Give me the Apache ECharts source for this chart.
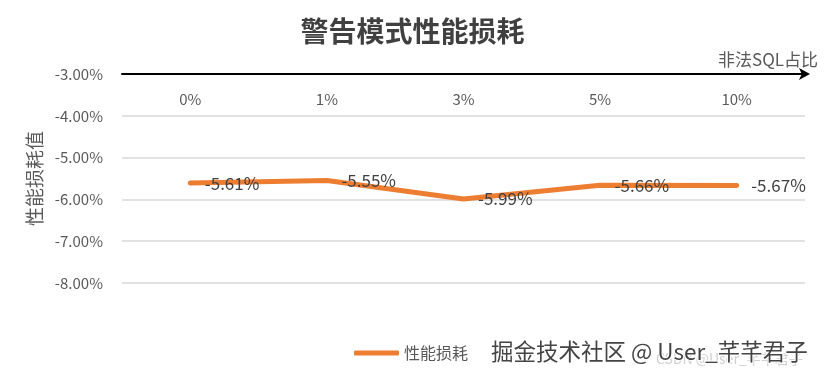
<!DOCTYPE html>
<html>
<head>
<meta charset="utf-8">
<script src="https://cdn.jsdelivr.net/npm/echarts@6/dist/echarts.min.js"></script>
<style>html,body{margin:0;padding:0;background:#fff}#c{width:825px;height:382px}</style>
</head>
<body>
<div id="c"></div>
<script>
const categories = ['0%', '1%', '3%', '5%', '10%'];
const lossValues = [-5.61, -5.55, -5.99, -5.66, -5.67];
const seriesName = '性能损耗';
const titleText = '警告模式性能损耗';
const xAxisName = '非法SQL占比';
const yAxisName = '性能损耗值';
const watermark = '掘金技术社区 @ User_芊芊君子';
const watermark2 = 'CSDN @User_芊芊君子';

const FONT = '"Noto Sans CJK SC", "Noto Sans", sans-serif';
const chart = echarts.init(document.getElementById('c'), null, {renderer: 'canvas'});
chart.setOption({
  backgroundColor: '#fff',
  animation: false,
  textStyle: {fontFamily: FONT},
  title: {
    text: titleText,
    left: 'center',
    top: 12,
    textStyle: {fontSize: 28, fontWeight: 'bold', color: '#404040', fontFamily: FONT}
  },
  legend: {
    bottom: 16,
    left: 349,
    icon: 'roundRect',
    itemWidth: 45,
    itemHeight: 5,
    itemGap: 4,
    itemStyle: {color: '#ED7D31', opacity: 1},
    textStyle: {fontSize: 16, color: '#595959'},
    data: [seriesName]
  },
  grid: {left: 122, right: 20, top: 74, bottom: 99, containLabel: false},
  xAxis: {
    type: 'category',
    position: 'top',
    data: categories,
    boundaryGap: true,
    name: xAxisName,
    nameLocation: 'end',
    nameGap: 13,
    nameTextStyle: {fontSize: 17, color: '#595959', align: 'right', verticalAlign: 'bottom', padding: [0, 0, 6, 0]},
    axisLine: {show: true, lineStyle: {color: '#000', width: 2}, symbol: ['none', 'arrow'], symbolSize: [9, 11], symbolOffset: [0, 5]},
    axisTick: {show: false},
    axisLabel: {inside: true, margin: 18, fontSize: 15, color: '#595959'},
    splitLine: {show: false}
  },
  yAxis: {
    type: 'value',
    min: -8,
    max: -3,
    interval: 1,
    name: yAxisName,
    nameLocation: 'middle',
    nameGap: 76,
    nameRotate: 90,
    nameTextStyle: {fontSize: 19, color: '#595959'},
    axisLine: {show: false},
    axisTick: {show: false},
    axisLabel: {margin: 19, fontSize: 15, color: '#595959', formatter: v => v.toFixed(2) + '%'},
    splitLine: {lineStyle: {color: '#d9d9d9', width: 1.5}}
  },
  series: [{
    name: seriesName,
    type: 'line',
    data: lossValues,
    symbol: 'circle',
    symbolSize: 1,
    showSymbol: true,
    lineStyle: {color: '#ED7D31', width: 5, cap: 'round', join: 'round'},
    itemStyle: {color: '#ED7D31', opacity: 0},
    label: {
      show: true,
      position: 'right',
      distance: 14,
      offset: [0, 3],
      fontSize: 17,
      color: '#404040',
      opacity: 1,
      formatter: p => p.value.toFixed(2) + '%'
    },
    labelLayout: {hideOverlap: false}
  }],
  graphic: [
    {type: 'text', left: 656, top: 352, z: 1, style: {text: watermark2, fontSize: 14, fill: '#d0d0d0', fontFamily: FONT}},
    {type: 'text', left: 490, top: 339, z: 2, style: {text: watermark, fontSize: 22.5, fill: '#444', stroke: '#fff', lineWidth: 2, fontFamily: FONT}}
  ]
});
</script>
</body>
</html>
